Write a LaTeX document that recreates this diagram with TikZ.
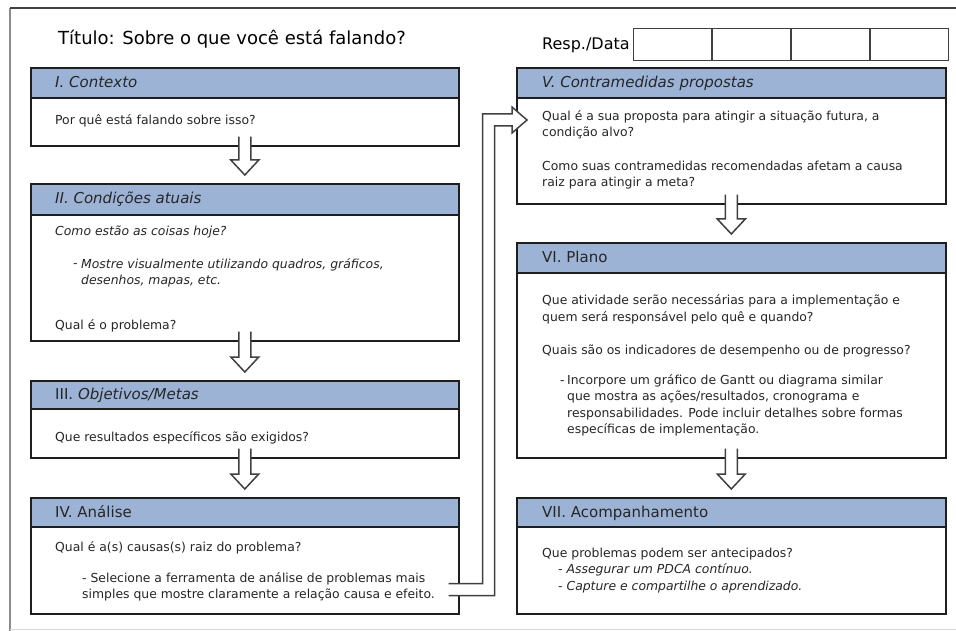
\documentclass[tikz,border=0pt]{standalone}
\usepackage{fontspec}
\setmainfont{DejaVu Sans}
\usetikzlibrary{calc}
\definecolor{hdrblue}{HTML}{9CB3D6}
\definecolor{edge}{HTML}{1E1E1E}
\tikzset{
  sbox/.style={draw=edge, line width=1.6pt, fill=white, rectangle, inner sep=0pt, anchor=north west},
  shdr/.style={draw=edge, line width=1.6pt, fill=hdrblue, rectangle, inner sep=0pt, anchor=north west},
  htext/.style={anchor=base west, inner sep=0pt, font=\fontsize{15}{18}\selectfont, text=black!85},
  btext/.style={anchor=base west, inner sep=0pt, font=\fontsize{12.4}{16.5}\selectfont, align=left, text=black!85},
  cell/.style={draw=edge!85, line width=1.3pt, rectangle, minimum width=77.75pt, minimum height=32pt, inner sep=0pt, anchor=north west},
  arrowline/.style={draw=edge!85, line width=1.5pt, line join=miter},
}
\newcommand{\hollowdown}[2]{%
  \fill[white] let \p1=(#1.south), \p2=(#2.north) in
    (\x1-6pt,\y1+10pt) -- (\x1-6pt,\y2+23pt) -- (\x1-14pt,\y2+23pt) -- (\x1,\y2+8pt)
    -- (\x1+14pt,\y2+23pt) -- (\x1+6pt,\y2+23pt) -- (\x1+6pt,\y1+10pt) -- cycle;
  \draw[arrowline] let \p1=(#1.south), \p2=(#2.north) in
    (\x1-6pt,\y1+10pt) -- (\x1-6pt,\y2+23pt) -- (\x1-14pt,\y2+23pt) -- (\x1,\y2+8pt)
    -- (\x1+14pt,\y2+23pt) -- (\x1+6pt,\y2+23pt) -- (\x1+6pt,\y1+10pt);
}
\begin{document}
\begin{tikzpicture}[x=1pt,y=-1pt]
\useasboundingbox (0,0) rectangle (956,631);
\fill[white] (0,0) rectangle (956,631);
% page frame
\draw[line width=2.2pt, black!45] (10,8) -- (10,631);
\draw[line width=1.8pt, black!75] (10,8) -- (956,8);
\draw[line width=1pt, black!15] (10,629.5) -- (956,629.5);

% title and resp/data
\node[anchor=base west, inner sep=0pt, font=\fontsize{18}{21}\selectfont] (title) at (58,45) {Título: Sobre o que você está falando?};
\node[anchor=base west, inner sep=0pt, font=\fontsize{16}{19}\selectfont] (resp) at (542,50) {Resp./Data};
\node[cell] (r1) at (633,28) {};
\node[cell] (r2) at (r1.north east) {};
\node[cell] (r3) at (r2.north east) {};
\node[cell] (r4) at (r3.north east) {};

% ---------- left column ----------
\node[sbox, minimum width=428pt, minimum height=78pt] (b1) at (30,67) {};
\node[shdr, minimum width=428pt, minimum height=30pt] (h1) at (30,67) {};
\node[htext] (t1) at (55,87.5) {\itshape I. Contexto};
\node[btext] (p1) at (55,125) {Por quê está falando sobre isso?};

\node[sbox, minimum width=428pt, minimum height=157pt] (b2) at (30,183) {};
\node[shdr, minimum width=428pt, minimum height=31pt] (h2) at (30,183) {};
\node[htext] (t2) at (55,204) {\itshape II. Condições atuais};
\node[btext] (p2a) at (55,236) {\itshape Como estão as coisas hoje?};
\node[btext] (d2) at (73,268) {\itshape -};
\node[btext] (p2b) at (81,284.5) {\itshape Mostre visualmente utilizando quadros, gráficos,\\\itshape desenhos, mapas, etc.};
\node[btext] (p2c) at (55,329) {Qual é o problema?};

\node[sbox, minimum width=428pt, minimum height=77pt] (b3) at (30,380) {};
\node[shdr, minimum width=428pt, minimum height=28pt] (h3) at (30,380) {};
\node[htext] (t3) at (55,399.5) {III. \itshape Objetivos/Metas};
\node[btext] (p3) at (55,441) {Que resultados específicos são exigidos?};

\node[sbox, minimum width=428pt, minimum height=116pt] (b4) at (30,497) {};
\node[shdr, minimum width=428pt, minimum height=29pt] (h4) at (30,497) {};
\node[htext] (t4) at (55,517) {IV. Análise};
\node[btext] (p4a) at (55,551) {Qual é a(s) causas(s) raiz do problema?};
\node[btext] (p4b) at (82,598.5) {- Selecione a ferramenta de análise de problemas mais\\simples que mostre claramente a relação causa e efeito.};

% ---------- right column ----------
\node[sbox, minimum width=429pt, minimum height=136pt] (b5) at (516,67) {};
\node[shdr, minimum width=429pt, minimum height=30pt] (h5) at (516,67) {};
\node[htext] (t5) at (542,87.5) {\itshape V. Contramedidas propostas};
\node[btext] (p5a) at (542,137) {Qual é a sua proposta para atingir a situação futura, a\\condição alvo?};
\node[btext] (p5b) at (542,187) {Como suas contramedidas recomendadas afetam a causa\\raiz para atingir a meta?};

\node[sbox, minimum width=429pt, minimum height=215pt] (b6) at (516,242) {};
\node[shdr, minimum width=429pt, minimum height=30pt] (h6) at (516,242) {};
\node[htext] (t6) at (542,262.5) {VI. Plano};
\node[btext] (p6a) at (542,321) {Que atividade serão necessárias para a implementação e\\quem será responsável pelo quê e quando?};
\node[btext] (p6b) at (542,354) {Quais são os indicadores de desempenho ou de progresso?};
\node[btext] (d6) at (560,384) {-};
\node[btext] (p6c) at (567,433.5) {Incorpore um gráfico de Gantt ou diagrama similar\\que mostra as ações/resultados, cronograma e\\responsabilidades. Pode incluir detalhes sobre formas\\específicas de implementação.};

\node[sbox, minimum width=429pt, minimum height=116pt] (b7) at (516,497) {};
\node[shdr, minimum width=429pt, minimum height=29pt] (h7) at (516,497) {};
\node[htext] (t7) at (542,517) {VII. Acompanhamento};
\node[btext] (p7a) at (542,557) {Que problemas podem ser antecipados?};
\node[btext] (p7b) at (558,590) {\itshape - Assegurar um PDCA contínuo.\\\itshape - Capture e compartilhe o aprendizado.};

% ---------- hollow arrows ----------
\hollowdown{b1}{b2}
\hollowdown{b2}{b3}
\hollowdown{b3}{b4}
\hollowdown{b5}{b6}
\hollowdown{b6}{b7}

% elbow arrow IV -> V
\fill[white] let \p1=($(b4.south east)+(-11,-25)$), \p2=($(b5.north west)+(11,53)$) in
  (\x1,\y1+6pt) -- (\x1+34pt,\y1+6pt) -- (\x1+34pt,\y2+6pt) -- (\x2-15pt,\y2+6pt)
  -- (\x2-15pt,\y2+13pt) -- (\x2,\y2) -- (\x2-15pt,\y2-13pt) -- (\x2-15pt,\y2-6pt)
  -- (\x1+46pt,\y2-6pt) -- (\x1+46pt,\y1-6pt) -- (\x1,\y1-6pt) -- cycle;
\draw[arrowline] let \p1=($(b4.south east)+(-11,-25)$), \p2=($(b5.north west)+(11,53)$) in
  (\x1,\y1+6pt) -- (\x1+34pt,\y1+6pt) -- (\x1+34pt,\y2+6pt) -- (\x2-15pt,\y2+6pt)
  -- (\x2-15pt,\y2+13pt) -- (\x2,\y2) -- (\x2-15pt,\y2-13pt) -- (\x2-15pt,\y2-6pt)
  -- (\x1+46pt,\y2-6pt) -- (\x1+46pt,\y1-6pt) -- (\x1,\y1-6pt);
\end{tikzpicture}
\end{document}
